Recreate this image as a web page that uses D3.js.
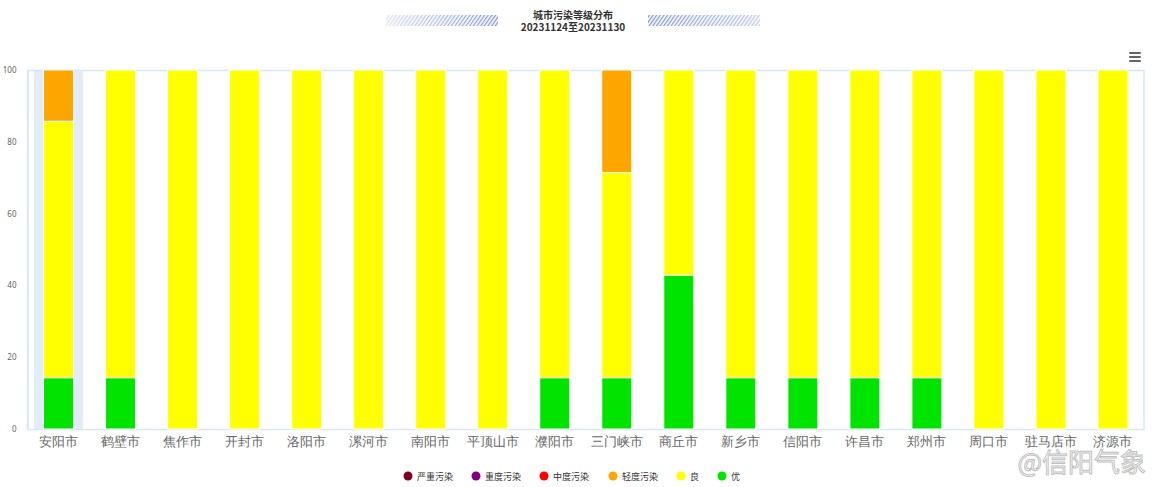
<!DOCTYPE html>
<html><head><meta charset="utf-8">
<script src="https://cdn.jsdelivr.net/npm/d3@7/dist/d3.min.js"></script>
<style>body{margin:0;background:#fff;}svg{display:block;font-family:"Noto Sans CJK SC","Noto Sans",sans-serif;}</style>
</head><body><svg id="c" width="1157" height="487"></svg>
<script>
const categories = ["安阳市","鹤壁市","焦作市","开封市","洛阳市","漯河市","南阳市","平顶山市","濮阳市","三门峡市","商丘市","新乡市","信阳市","许昌市","郑州市","周口市","驻马店市","济源市"];
const seriesNames = ["优","良","轻度污染","中度污染","重度污染","严重污染"];
const seriesColors = ["#00e400","#ffff00","#ffa500","#ff0000","#800080","#7e0023"];
const you   = [14.29,14.29,0,0,0,0,0,0,14.29,14.29,42.86,14.29,14.29,14.29,14.29,0,0,0];
const liang = [71.43,85.71,100,100,100,100,100,100,85.71,57.14,57.14,85.71,85.71,85.71,85.71,100,100,100];
const qingdu= [14.29,0,0,0,0,0,0,0,0,28.57,0,0,0,0,0,0,0,0];
const zhongdu=[0,0,0,0,0,0,0,0,0,0,0,0,0,0,0,0,0,0];
const zhongdu2=[0,0,0,0,0,0,0,0,0,0,0,0,0,0,0,0,0,0];
const yanzhong=[0,0,0,0,0,0,0,0,0,0,0,0,0,0,0,0,0,0];
const yTicks = [0,20,40,60,80,100];
const titleLines = ["城市污染等级分布","20231124至20231130"];

const seriesValues = [you, liang, qingdu, zhongdu, zhongdu2, yanzhong];
const rows = categories.map((c,i)=>{const r={cat:c}; seriesNames.forEach((s,j)=>r[s]=seriesValues[j][i]); return r;});
const stack = d3.stack().keys(seriesNames)(rows);

const svg = d3.select("#c");
const L=27.5, R=1144, T=70, B=429;
const x = d3.scaleBand().domain(categories).range([L,R]).paddingInner(0.516).paddingOuter(0.258);
const y = d3.scaleLinear().domain([0,100]).range([B,T]);

// crosshair highlight on first category
svg.append("rect").attr("x", x(categories[0]) + x.bandwidth()/2 - 24.5).attr("y",T).attr("width",49).attr("height",B-T).attr("fill","#e3ecf9");

// plot border
svg.append("rect").attr("x",L).attr("y",T+0.5).attr("width",R-L).attr("height",B-T).attr("fill","none").attr("stroke","#d6e8f2").attr("stroke-width",1.5);

// bars
svg.append("g").selectAll("g").data(stack).join("g").attr("fill",(d,i)=>seriesColors[i])
 .selectAll("rect").data(d=>d.filter(e=>e[1]-e[0]>0)).join("rect")
 .attr("x",d=>x(d.data.cat)).attr("width",x.bandwidth())
 .attr("y",d=>y(d[1])).attr("height",d=>y(d[0])-y(d[1]))
 .attr("stroke","#fff").attr("stroke-width",1);

// y axis
const ya = svg.append("g").attr("transform",`translate(${L},0)`).call(d3.axisLeft(y).tickValues(yTicks).tickSize(0).tickPadding(11));
ya.select(".domain").attr("stroke","#d6e8f2").attr("stroke-width",1.5);
ya.selectAll("text").attr("font-size",8).attr("fill","#666").attr("font-family","Noto Sans, sans-serif");

// x axis
const xa = svg.append("g").attr("transform",`translate(0,${B})`).call(d3.axisBottom(x).tickSize(0).tickPadding(8));
xa.select(".domain").remove();
xa.selectAll("text").attr("font-size",13).attr("fill","#666");

// title
svg.append("text").attr("x",573).attr("y",19).attr("text-anchor","middle").attr("font-size",10).attr("font-weight","bold").attr("fill","#333").text(titleLines[0]);
svg.append("text").attr("x",573).attr("y",31).attr("text-anchor","middle").attr("font-size",10).attr("font-weight","bold").attr("fill","#333").text(titleLines[1]);

// hatched decorations
const defs = svg.append("defs");
const pat = defs.append("pattern").attr("id","hatch").attr("patternUnits","userSpaceOnUse").attr("width",3).attr("height",3).attr("patternTransform","rotate(35)");
pat.append("rect").attr("width",1.3).attr("height",3).attr("fill","#6f86d6");
const gL = defs.append("linearGradient").attr("id","gL");
gL.append("stop").attr("offset","0").attr("stop-color","#fff").attr("stop-opacity",0.75);
gL.append("stop").attr("offset","1").attr("stop-color","#fff").attr("stop-opacity",0.1);
const gR = defs.append("linearGradient").attr("id","gR");
gR.append("stop").attr("offset","0").attr("stop-color","#fff").attr("stop-opacity",0.1);
gR.append("stop").attr("offset","1").attr("stop-color","#fff").attr("stop-opacity",0.55);
[[386,"gL"],[648,"gR"]].forEach(([bx,g])=>{
  svg.append("rect").attr("x",bx).attr("y",15).attr("width",112).attr("height",11).attr("fill","url(#hatch)");
  svg.append("rect").attr("x",bx).attr("y",15).attr("width",112).attr("height",11).attr("fill",`url(#${g})`);
});

// menu icon
[53,57,61].forEach(yy=>svg.append("rect").attr("x",1129).attr("y",yy-1).attr("width",12).attr("height",2).attr("rx",1).attr("fill","#666"));

// legend
const legendOrder = [5,4,3,2,1,0];
const legX = [408,476,544,613,681,722];
const lg = svg.append("g");
legendOrder.forEach((si,k)=>{
  lg.append("circle").attr("cx",legX[k]).attr("cy",476).attr("r",4.5).attr("fill",seriesColors[si]);
  lg.append("text").attr("x",legX[k]+9).attr("y",479.5).attr("font-size",9).attr("fill","#333").text(seriesNames[si]);
});

// watermark
svg.append("text").attr("x",1146).attr("y",472).attr("text-anchor","end").attr("font-size",26).attr("fill","#fff").attr("stroke","#bbb").attr("stroke-width",1).attr("opacity",0.9).text("@信阳气象");
</script></body></html>
